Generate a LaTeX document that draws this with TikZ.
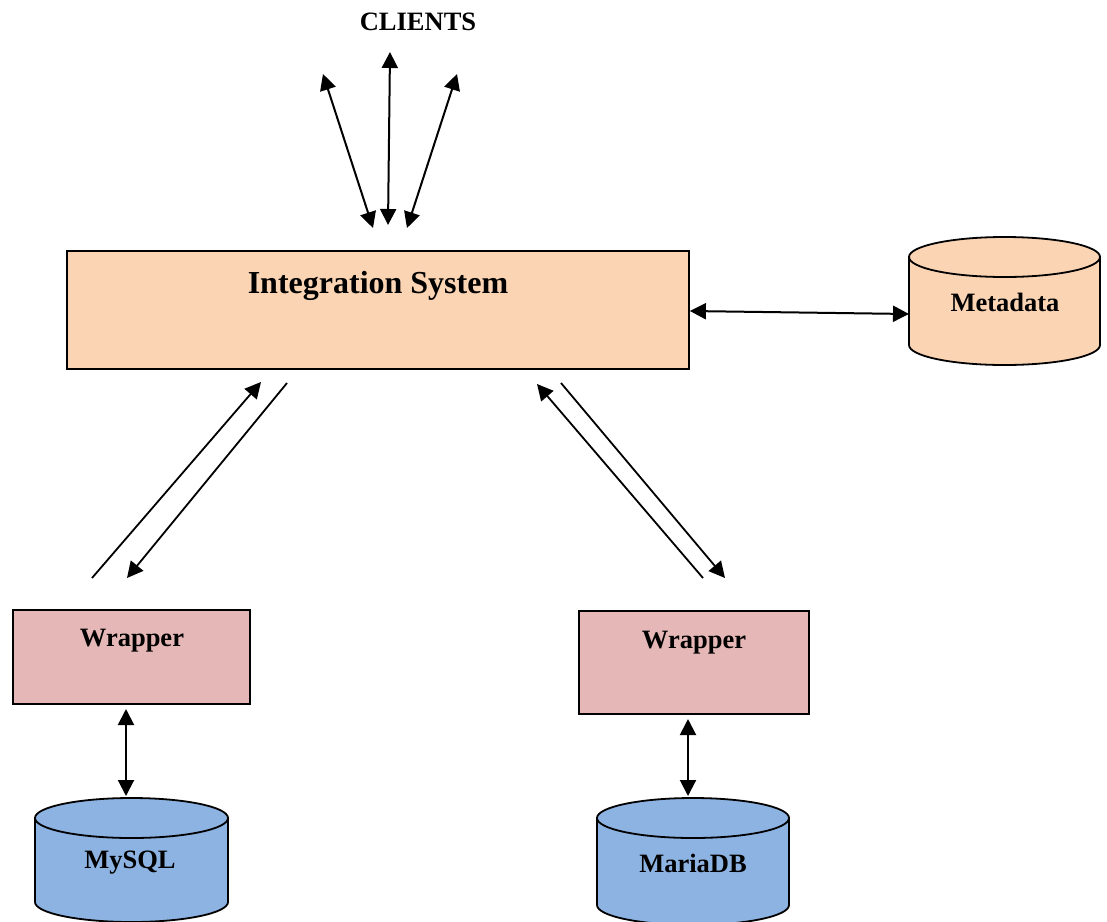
\documentclass[tikz,border=0pt]{standalone}
\usepackage{fontspec}
\setmainfont{Liberation Serif}
\usetikzlibrary{arrows.meta}
\definecolor{peach}{HTML}{FBD4B4}
\definecolor{pinkw}{HTML}{E5B8B7}
\definecolor{bluedb}{HTML}{8DB3E2}
\tikzset{
  box/.style={draw=black, line width=1.8pt, inner sep=0pt},
  lbl/.style={font=\fontsize{26.5}{30}\selectfont\bfseries, inner sep=0pt},
  tip/.tip={Triangle[length=16pt,width=16pt]},
  conn/.style={line width=2pt, tip-tip},
  oneway/.style={line width=1.8pt, -tip},
  cyl/.style={draw=black, line width=1.8pt}
}
\newcommand{\dbcyl}[6]{%
  \filldraw[cyl, fill=#6] (#1-#4,#2) -- (#1-#4,#3) arc[start angle=180, end angle=360, x radius=#4pt, y radius=#5pt] -- (#1+#4,#2) -- cycle;
  \filldraw[cyl, fill=#6] (#1,#2) ellipse [x radius=#4pt, y radius=#5pt];
}
\begin{document}
\begin{tikzpicture}[x=1pt,y=-1pt]
\useasboundingbox (0,0) rectangle (1107,921);
% clients
\node[lbl] (clients) at (418,22) {CLIENTS};
\coordinate (c1t) at (323,74);  \coordinate (c1b) at (373,228);
\coordinate (c2t) at (390,52);  \coordinate (c2b) at (388,225);
\coordinate (c3t) at (457,74);  \coordinate (c3b) at (407,228);
\draw[conn] (c1b) -- (c1t);
\draw[conn] (c2b) -- (c2t);
\draw[conn] (c3b) -- (c3t);
% integration system
\node[box, fill=peach, minimum width=622pt, minimum height=118pt] (is) at (378,310) {};
\node[lbl, font=\fontsize{32}{36}\selectfont\bfseries] (istext) at (378,286) {Integration System};
% metadata
\dbcyl{1004.5}{257}{345}{95.5}{20}{peach}
\node[lbl] (meta) at (1005,302) {Metadata};
\coordinate (metaW) at (909,314);
\draw[conn] (is.east |- 0,311) -- (metaW);
% wrappers
\node[box, fill=pinkw, minimum width=237pt, minimum height=94pt] (w1) at (131.5,657) {};
\node[lbl] (w1t) at (132,641) {Wrapper};
\node[box, fill=pinkw, minimum width=230pt, minimum height=103pt] (w2) at (694,662.5) {};
\node[lbl] (w2t) at (694,643) {Wrapper};
% diagonal connectors left
\coordinate (l1s) at (92,578);  \coordinate (l1e) at (261,382);
\coordinate (l2s) at (287,383); \coordinate (l2e) at (127,578);
\draw[oneway] (l1s) -- (l1e);
\draw[oneway] (l2s) -- (l2e);
% diagonal connectors right
\coordinate (r1s) at (703,578); \coordinate (r1e) at (537,384);
\coordinate (r2s) at (561,383); \coordinate (r2e) at (725,578);
\draw[oneway] (r1s) -- (r1e);
\draw[oneway] (r2s) -- (r2e);
% databases
\dbcyl{131.5}{818}{902}{96.5}{20}{bluedb}
\node[lbl] (mysql) at (130,863) {MySQL};
\dbcyl{693}{818}{905}{96}{20}{bluedb}
\node[lbl] (maria) at (693,863) {MariaDB};
\coordinate (v1t) at (126,709); \coordinate (v1b) at (126,796);
\coordinate (v2t) at (688,719); \coordinate (v2b) at (688,796);
\draw[conn] (v1t) -- (v1b);
\draw[conn] (v2t) -- (v2b);
\end{tikzpicture}
\end{document}
